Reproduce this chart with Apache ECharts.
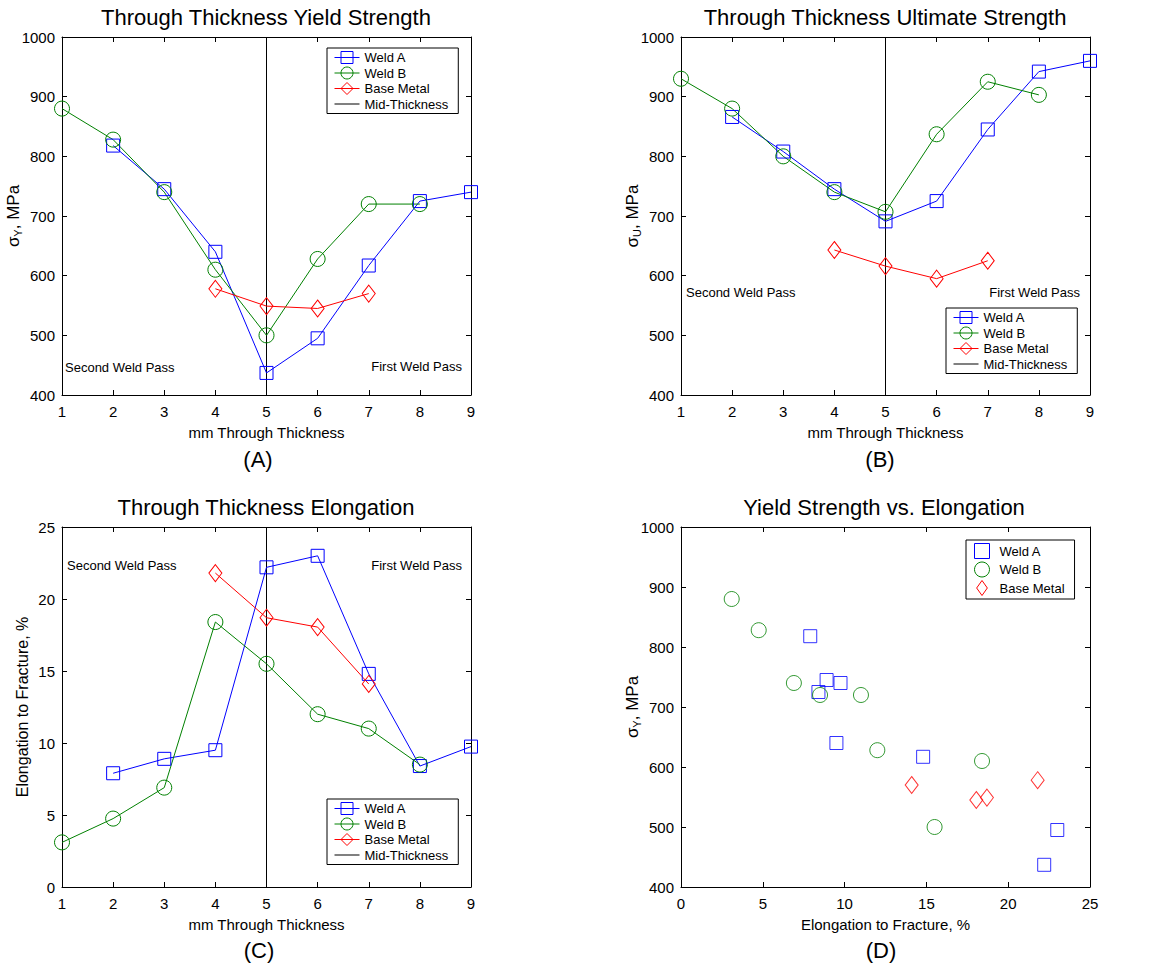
<!DOCTYPE html>
<html>
<head>
<meta charset="utf-8">
<title>Through Thickness Properties</title>
<script src="https://cdn.jsdelivr.net/npm/echarts@6/dist/echarts.min.js"></script>
<style>
  html, body { margin: 0; padding: 0; background: #fff; }
  #chart { width: 1158px; height: 966px; }
</style>
</head>
<body>
<div id="chart"></div>
<script>
// Specimen positions through the plate thickness (mm)
const thickness = [1, 2, 3, 4, 5, 6, 7, 8, 9];

// Yield strength, MPa (null = no specimen at that position)
const yieldWeldA = [null, 818, 745, 640, 437, 495, 617, 725, 740];
const yieldWeldB = [880, 828, 740, 610, 500, 628, 720, 720, null];
const yieldBase  = [null, null, null, 578, 549, 545, 570, null, null];

// Ultimate strength, MPa
const ultWeldA = [null, 866, 808, 745, 691, 725, 845, 942, 960];
const ultWeldB = [930, 880, 800, 740, 707, 837, 925, 903, null];
const ultBase  = [null, null, null, 643, 616, 595, 625, null, null];

// Elongation to fracture, %
const elongWeldA = [null, 7.9, 8.9, 9.5, 22.2, 23.0, 14.8, 8.4, 9.75];
const elongWeldB = [3.1, 4.75, 6.9, 18.4, 15.5, 12.0, 11.0, 8.5, null];
const elongBase  = [null, null, null, 21.8, 18.7, 18.05, 14.1, null, null];

// Axis ranges and ticks
const thicknessTicks = { min: 1, max: 9, interval: 1 };
const strengthTicks  = { min: 400, max: 1000, interval: 100 };
const elongTicks     = { min: 0, max: 25, interval: 5 };
const midThickness = 5;

const FONT = '"Liberation Sans", Arial, Helvetica, sans-serif';
const BLUE = '#0000ff', GREEN = '#008000', RED = '#ff0000';

const grids = [
  { left: 62,  top: 37,  width: 409, height: 358 },
  { left: 681, top: 37,  width: 409, height: 358 },
  { left: 62,  top: 527, width: 409, height: 360 },
  { left: 681, top: 527, width: 409, height: 360 }
];

// pair x positions with values, dropping missing entries
function pairs(xs, ys) {
  const out = [];
  xs.forEach((x, i) => { if (ys[i] != null && x != null) out.push([x, ys[i]]); });
  return out;
}

const tickStyle = { show: true, inside: true, length: 5, lineStyle: { color: '#000', width: 1 } };
const lineStyleAxis = { show: true, onZero: false, lineStyle: { color: '#000', width: 1 } };
const plain = v => String(v);

function mainX(grid, ticks, name) {
  return {
    type: 'value', gridIndex: grid, position: 'bottom',
    min: ticks.min, max: ticks.max, interval: ticks.interval,
    name: name, nameLocation: 'middle', nameGap: 30, nameMoveOverlap: false,
    nameTextStyle: { fontSize: 15, fontFamily: FONT, color: '#000' },
    axisLine: lineStyleAxis, axisTick: tickStyle,
    axisLabel: { fontSize: 15, fontFamily: FONT, color: '#000', margin: 9, formatter: plain },
    splitLine: { show: false }
  };
}
function boxX(grid, ticks) {
  return {
    type: 'value', gridIndex: grid, position: 'top',
    min: ticks.min, max: ticks.max, interval: ticks.interval,
    axisLine: lineStyleAxis, axisTick: tickStyle,
    axisLabel: { show: false }, splitLine: { show: false }
  };
}
function mainY(grid, ticks, name, gap, size) {
  return {
    type: 'value', gridIndex: grid, position: 'left',
    min: ticks.min, max: ticks.max, interval: ticks.interval,
    name: name, nameLocation: 'middle', nameGap: gap, nameMoveOverlap: false,
    nameTextStyle: {
      fontSize: size, fontFamily: FONT, color: '#000',
      rich: {
        g: { fontSize: size, fontFamily: FONT, color: '#000' },
        s: { fontSize: 11, fontFamily: FONT, color: '#000', verticalAlign: 'bottom', padding: [9, 0, 0, 0] }
      }
    },
    axisLine: lineStyleAxis, axisTick: tickStyle,
    axisLabel: { fontSize: 15, fontFamily: FONT, color: '#000', margin: 7, formatter: plain },
    splitLine: { show: false }
  };
}
function boxY(grid, ticks) {
  return {
    type: 'value', gridIndex: grid, position: 'right',
    min: ticks.min, max: ticks.max, interval: ticks.interval,
    axisLine: lineStyleAxis, axisTick: tickStyle,
    axisLabel: { show: false }, splitLine: { show: false }
  };
}

const xAxes = [
  mainX(0, thicknessTicks, 'mm Through Thickness'),
  mainX(1, thicknessTicks, 'mm Through Thickness'),
  mainX(2, thicknessTicks, 'mm Through Thickness'),
  mainX(3, elongTicks, 'Elongation to Fracture, %'),
  boxX(0, thicknessTicks), boxX(1, thicknessTicks), boxX(2, thicknessTicks), boxX(3, elongTicks)
];
const yAxes = [
  mainY(0, strengthTicks, '{g|σ}{s|Y}{g|, MPa}', 39, 17),
  mainY(1, strengthTicks, '{g|σ}{s|U}{g|, MPa}', 39, 17),
  mainY(2, elongTicks, 'Elongation to Fracture, %', 32, 16),
  mainY(3, strengthTicks, '{g|σ}{s|Y}{g|, MPa}', 39, 17),
  boxY(0, strengthTicks), boxY(1, strengthTicks), boxY(2, elongTicks), boxY(3, strengthTicks)
];

const markers = {
  'Weld A':     { color: BLUE,  symbol: 'rect',    size: 13 },
  'Weld B':     { color: GREEN, symbol: 'circle',  size: 15 },
  'Base Metal': { color: RED,   symbol: 'diamond', size: [13, 17] }
};

function lineSeries(name, axis, data) {
  const m = markers[name];
  return {
    type: 'line', name: name, xAxisIndex: axis, yAxisIndex: axis, data: data,
    symbol: m.symbol, symbolSize: m.size, showAllSymbol: true, animation: false,
    lineStyle: { color: m.color, width: 1 },
    itemStyle: { color: 'rgba(0,0,0,0)', borderColor: m.color, borderWidth: 1 },
    emphasis: { disabled: true }, z: 3
  };
}
function scatterSeries(name, axis, data) {
  const m = markers[name];
  return {
    type: 'scatter', name: name, xAxisIndex: axis, yAxisIndex: axis, data: data,
    symbol: m.symbol, symbolSize: m.size, animation: false,
    itemStyle: { color: 'rgba(0,0,0,0)', borderColor: m.color, borderWidth: 1 },
    emphasis: { disabled: true }, z: 3
  };
}
function midLine(axis, ticks) {
  return {
    type: 'line', name: 'Mid-Thickness', xAxisIndex: axis, yAxisIndex: axis,
    data: [[midThickness, ticks.min], [midThickness, ticks.max]],
    symbol: 'none', animation: false, silent: true,
    lineStyle: { color: '#000', width: 1 },
    itemStyle: { color: '#000' }, z: 2
  };
}

const series = [
  // (A) yield strength
  lineSeries('Weld A', 0, pairs(thickness, yieldWeldA)),
  lineSeries('Weld B', 0, pairs(thickness, yieldWeldB)),
  lineSeries('Base Metal', 0, pairs(thickness, yieldBase)),
  midLine(0, strengthTicks),
  // (B) ultimate strength
  lineSeries('Weld A', 1, pairs(thickness, ultWeldA)),
  lineSeries('Weld B', 1, pairs(thickness, ultWeldB)),
  lineSeries('Base Metal', 1, pairs(thickness, ultBase)),
  midLine(1, strengthTicks),
  // (C) elongation
  lineSeries('Weld A', 2, pairs(thickness, elongWeldA)),
  lineSeries('Weld B', 2, pairs(thickness, elongWeldB)),
  lineSeries('Base Metal', 2, pairs(thickness, elongBase)),
  midLine(2, elongTicks),
  // (D) yield strength against elongation
  scatterSeries('Weld A', 3, pairs(elongWeldA, yieldWeldA)),
  scatterSeries('Weld B', 3, pairs(elongWeldB, yieldWeldB)),
  scatterSeries('Base Metal', 3, pairs(elongBase, yieldBase))
];

// legend glyphs
const ICON_SQUARE  = 'path://M0,0L10,0L10,10L0,10Z';
const ICON_DIAMOND = 'path://M5,0L10,7L5,14L0,7Z';
const ICON_RULE    = 'path://M0,0L25,0L25,1L0,1Z';

const legendText = { fontSize: 13, fontFamily: FONT, color: '#000' };
function lineLegend(left, top) {
  return {
    orient: 'vertical', left: left, top: top,
    data: ['Weld A', 'Weld B', 'Base Metal',
           { name: 'Mid-Thickness', icon: ICON_RULE, itemStyle: { color: '#000', borderWidth: 0 } }],
    itemWidth: 25, itemHeight: 15, itemGap: 2.5,
    padding: [3, 10, 3, 7], borderColor: '#000', borderWidth: 1, backgroundColor: '#fff',
    selectedMode: false,
    lineStyle: { width: 1 },
    itemStyle: { borderWidth: 1 },
    textStyle: legendText
  };
}
const legends = [
  lineLegend(327, 48),
  lineLegend(946, 308),
  lineLegend(327, 799),
  {
    orient: 'vertical', left: 966, top: 540,
    data: [
      { name: 'Weld A', icon: ICON_SQUARE },
      { name: 'Weld B', icon: 'circle' },
      { name: 'Base Metal', icon: ICON_DIAMOND }
    ],
    itemWidth: 25, itemHeight: 15, itemGap: 2.5,
    padding: [3, 10, 3, 8], borderColor: '#000', borderWidth: 1, backgroundColor: '#fff',
    selectedMode: false,
    itemStyle: { borderWidth: 1 },
    textStyle: legendText
  }
];

function label(text, x, y, size, align) {
  return {
    type: 'text', x: x, y: y, silent: true, z: 10,
    style: {
      text: text, fontSize: size, fontFamily: FONT, fill: '#000',
      textAlign: align, textVerticalAlign: 'middle', align: align, verticalAlign: 'middle'
    }
  };
}

const graphics = [
  label('Through Thickness Yield Strength', 266, 17, 22, 'center'),
  label('Through Thickness Ultimate Strength', 885, 17, 22, 'center'),
  label('Through Thickness Elongation', 266, 507, 22, 'center'),
  label('Yield Strength vs. Elongation', 884, 507, 22, 'center'),
  label('(A)', 258, 459, 22, 'center'),
  label('(B)', 880, 459, 22, 'center'),
  label('(C)', 259, 950, 22, 'center'),
  label('(D)', 881, 950, 22, 'center'),
  label('Second Weld Pass', 65, 367, 13, 'left'),
  label('First Weld Pass', 462, 366, 13, 'right'),
  label('Second Weld Pass', 686, 292, 13, 'left'),
  label('First Weld Pass', 1080, 292, 13, 'right'),
  label('Second Weld Pass', 67, 565, 13, 'left'),
  label('First Weld Pass', 462, 565, 13, 'right')
];

const chart = echarts.init(document.getElementById('chart'), null, { renderer: 'svg' });
chart.setOption({
  animation: false,
  backgroundColor: '#fff',
  grid: grids.map(g => Object.assign({ containLabel: false }, g)),
  xAxis: xAxes,
  yAxis: yAxes,
  legend: legends,
  series: series,
  graphic: graphics
});
</script>
</body>
</html>
